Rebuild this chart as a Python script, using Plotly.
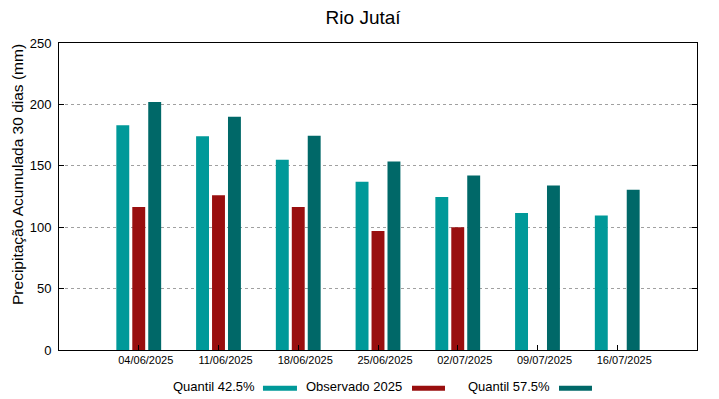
import plotly.graph_objects as go

dates = ["04/06/2025", "11/06/2025", "18/06/2025", "25/06/2025", "02/07/2025", "09/07/2025", "16/07/2025"]
q425 = [183, 174, 155, 137, 124.5, 111.5, 109.5]
obs2025 = [116.5, 126, 116.5, 97, 100, None, None]
q575 = [202, 190, 174.5, 153.5, 142, 134, 130.5]

series_names = ["Quantil 42.5%", "Observado 2025", "Quantil 57.5%"]
series_colors = ["#009999", "#990f0f", "#006868"]
yticks = [0, 50, 100, 150, 200, 250]

FONT = "Liberation Sans, Arial, sans-serif"
x = list(range(len(dates)))

fig = go.Figure()
for name, vals, col in zip(series_names, [q425, obs2025, q575], series_colors):
    fig.add_trace(go.Bar(x=x, y=vals, name=name, marker=dict(color=col, line=dict(width=0)),
                         showlegend=False))

fig.update_layout(
    width=719, height=399,
    margin=dict(l=59, r=22, t=43, b=49),
    paper_bgcolor="white", plot_bgcolor="white",
    barmode="group", bargap=0.4, bargroupgap=0.19,
    font=dict(family=FONT, color="black"),
    title=dict(text="Rio Jutaí", x=0.505, xanchor="center", y=0.957, yanchor="middle",
               font=dict(size=19, family=FONT, color="black")),
)
fig.update_xaxes(
    range=[-1, 7], tickmode="array", tickvals=x, ticktext=dates,
    ticks="inside", ticklen=5, tickcolor="black", tickwidth=1,
    showline=True, linecolor="black", linewidth=1, mirror=True,
    showgrid=False, zeroline=False,
    tickfont=dict(size=11, family=FONT, color="black"), ticklabelshift=7,
)
fig.update_yaxes(
    range=[0, 250], tickmode="array", tickvals=yticks,
    ticks="inside", ticklen=5, tickcolor="black", tickwidth=1,
    showline=True, linecolor="black", linewidth=1, mirror="ticks",
    showgrid=True, gridcolor="#a0a0a0", griddash="dot", gridwidth=1,
    zeroline=False,
    tickfont=dict(size=13, family=FONT, color="black"), ticklabelstandoff=4,
)

# y-axis label (placed like the gnuplot original)
fig.add_annotation(text="Precipitação Acumulada 30 dias (mm)", xref="paper", yref="paper",
                   x=-0.066, y=0.573, xanchor="center", yanchor="middle", textangle=-90,
                   showarrow=False, font=dict(size=15.5, family=FONT, color="black"))

# gnuplot-style legend: text followed by colour swatch
leg_y = -0.1205
leg_text_right = [0.3103, 0.5408, 0.7727]
leg_swatch = [(0.3197, 0.373), (0.5533, 0.605), (0.7837, 0.8354)]
for name, col, tx, (s0, s1) in zip(series_names, series_colors, leg_text_right, leg_swatch):
    fig.add_annotation(text=name, xref="paper", yref="paper", x=tx, y=leg_y,
                       xanchor="right", yanchor="middle", showarrow=False,
                       font=dict(size=13, family=FONT, color="black"))
    fig.add_shape(type="line", xref="paper", yref="paper", x0=s0, x1=s1, y0=leg_y - 0.004, y1=leg_y - 0.004,
                  line=dict(color=col, width=5))

fig.write_html("out.html", config={"displayModeBar": False},
               post_script="document.body.style.margin='0';")
